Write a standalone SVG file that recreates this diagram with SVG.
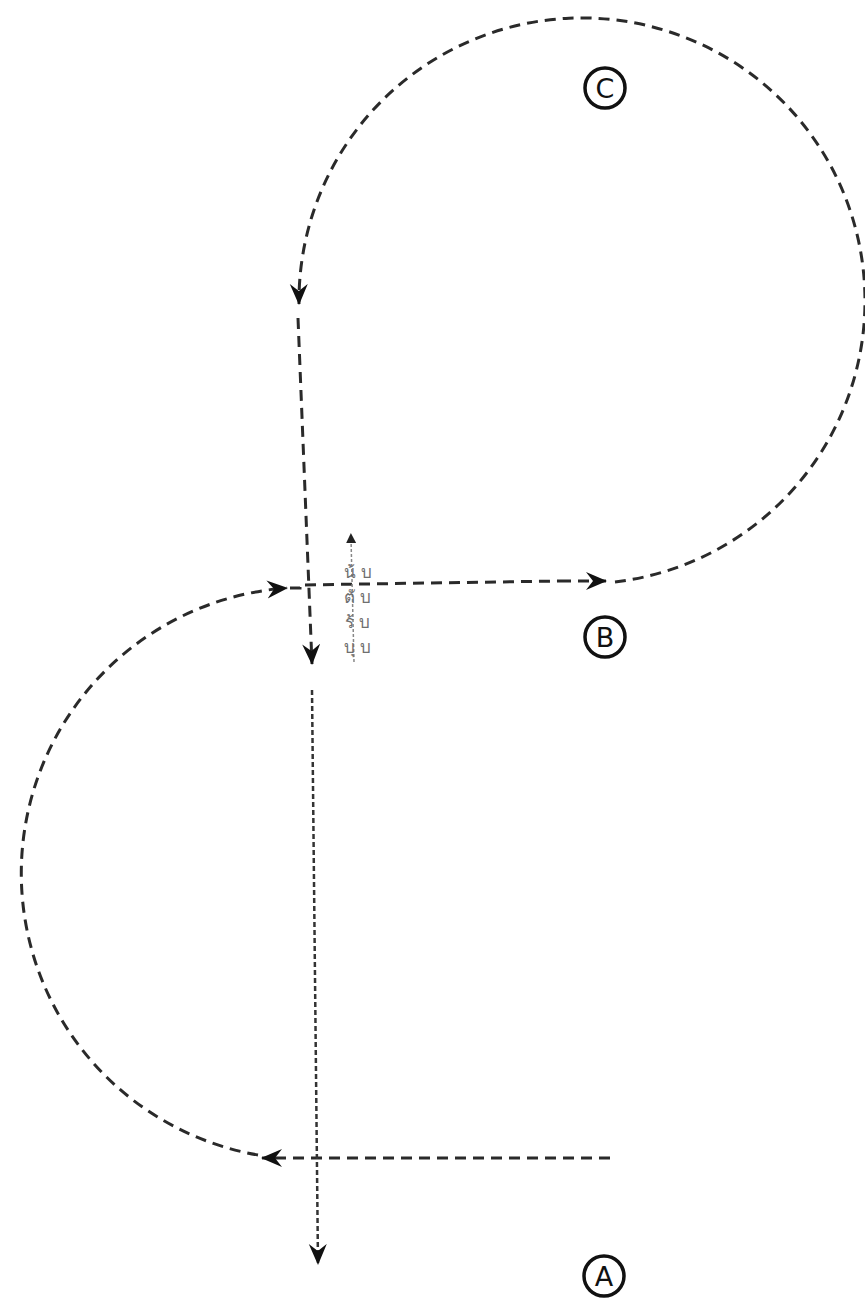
<svg xmlns="http://www.w3.org/2000/svg" width="865" height="1302" viewBox="0 0 865 1302">
<style>
.d{fill:none;stroke:#2a2a2a;stroke-width:3;stroke-dasharray:11 7}
.f{fill:none;stroke:#333;stroke-width:2.5;stroke-dasharray:5 3}
.g{fill:none;stroke:#888;stroke-width:1.5;stroke-dasharray:3 2}
.lbl{font-family:"DejaVu Sans",sans-serif;font-size:27px;fill:#111;text-anchor:middle}
.th{font-family:"Noto Sans","DejaVu Sans",sans-serif;font-size:17px;fill:#6f6f6f;text-anchor:middle;letter-spacing:5px}
</style>
<defs>
<marker id="ah" viewBox="0 0 22 20" refX="20" refY="10" markerWidth="22" markerHeight="20" markerUnits="userSpaceOnUse" orient="auto">
<path d="M0,1 L21,10 L0,19 L7,10 Z" fill="#111"/>
</marker>
<marker id="ahs" viewBox="0 0 10 10" refX="5" refY="5" markerWidth="10" markerHeight="10" markerUnits="userSpaceOnUse" orient="auto">
<path d="M0,0 L10,5 L0,10 Z" fill="#222"/>
</marker>
</defs>
<rect width="865" height="1302" fill="#fff"/>
<g id="connectors">
<path class="d" d="M615,582 A283,283 0 1 0 299,304" marker-end="url(#ah)"/>
<path class="d" d="M298,318 L312,664" marker-end="url(#ah)"/>
<path class="d" d="M290,588 L300,588 L300,585 L560,581"/>
<path class="d" d="M560,581 L606,581" marker-end="url(#ah)"/>
<path class="d" d="M258,1155 A286,286 0 0 1 287,588" marker-end="url(#ah)"/>
<path class="d" d="M610,1158 L262,1158" marker-end="url(#ah)"/>
<path class="f" d="M312,690 L318,1264" marker-end="url(#ah)"/>
<path class="g" d="M354,662 L351,538" marker-end="url(#ahs)"/>
</g>
<g id="thai-text">
<text class="th" x="360" y="578">น้บ</text>
<text class="th" x="360" y="603">ตับ</text>
<text class="th" x="360" y="628">ร้บ</text>
<text class="th" x="360" y="653">บุบ</text>
</g>
<g id="nodeC">
<circle cx="605" cy="88" r="20" fill="none" stroke="#111" stroke-width="3.5"/>
<text class="lbl" x="605" y="98">C</text>
</g>
<g id="nodeB">
<circle cx="605" cy="637" r="20" fill="none" stroke="#111" stroke-width="3.5"/>
<text class="lbl" x="605" y="647">B</text>
</g>
<g id="nodeA">
<circle cx="604" cy="1276" r="20" fill="none" stroke="#111" stroke-width="3.5"/>
<text class="lbl" x="604" y="1286">A</text>
</g>
</svg>
